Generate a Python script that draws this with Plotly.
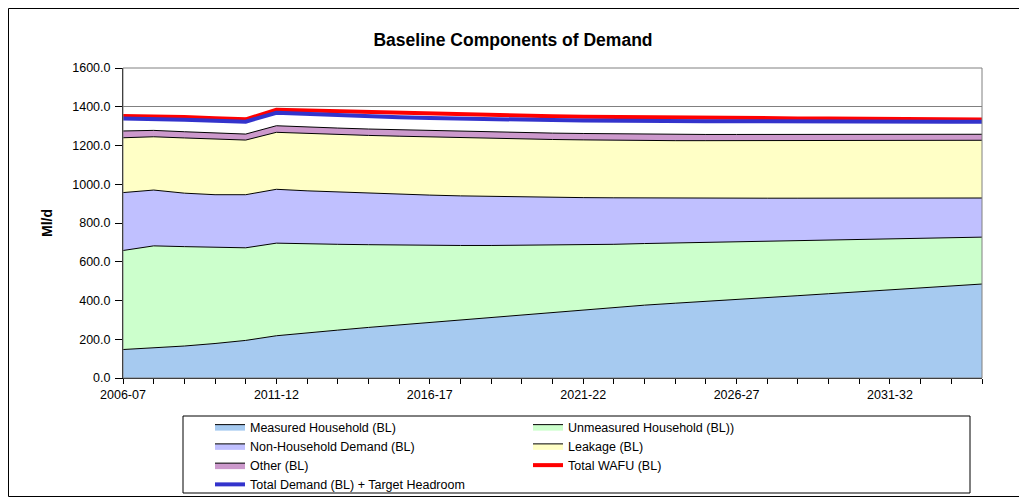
import plotly.graph_objects as go

years = ["2006-07", "2007-08", "2008-09", "2009-10", "2010-11", "2011-12", "2012-13",
         "2013-14", "2014-15", "2015-16", "2016-17", "2017-18", "2018-19", "2019-20",
         "2020-21", "2021-22", "2022-23", "2023-24", "2024-25", "2025-26", "2026-27",
         "2027-28", "2028-29", "2029-30", "2030-31", "2031-32", "2032-33", "2033-34",
         "2034-35"]

measured = [147, 155, 165, 178, 194, 218, 234, 247, 261, 274, 287, 300, 313, 326, 338,
            351, 364, 376, 386, 395, 405, 415, 425, 435, 445, 455, 465, 475, 485]
unmeasured = [511, 527, 513, 496, 478, 478, 458, 443, 427, 412, 398, 384, 371, 359, 348,
              337, 326, 318, 311, 305, 298, 291, 284, 277, 270, 263, 256, 249, 242]
non_household = [299, 288, 276, 272, 274, 278, 274, 270, 266, 263, 259, 256, 253, 249, 246,
                 243, 240, 235, 232, 228, 225, 222, 219, 216, 213, 211, 208, 205, 202]
leakage = [283, 275, 285, 287, 282, 294, 296, 297, 298, 299, 300, 300, 300, 300, 299,
           298, 297, 296, 296, 297, 297, 297, 297, 297, 297, 297, 297, 298, 298]
other = [35, 33, 32, 32, 31, 34, 33, 33, 33, 33, 33, 34, 33, 33, 33,
         33, 33, 33, 32, 32, 32, 32, 32, 32, 32, 31, 31, 31, 31]
total_wafu = [1352, 1352, 1347, 1341, 1335, 1385, 1381, 1377, 1372, 1368, 1364, 1359, 1356,
              1353, 1351, 1349, 1347, 1345, 1344, 1343, 1342, 1341, 1340, 1339, 1338, 1337,
              1336, 1335, 1334]
total_demand_headroom = [1340, 1339, 1333, 1328, 1323, 1369, 1362, 1356, 1350, 1346, 1342,
                         1338, 1335, 1333, 1331, 1329, 1327, 1326, 1325, 1325, 1325, 1324,
                         1324, 1324, 1324, 1323, 1323, 1323, 1323]

y_ticks = [0, 200, 400, 600, 800, 1000, 1200, 1400, 1600]
x_tick_labels = [y if i % 5 == 0 else "" for i, y in enumerate(years)]

FONT = "Liberation Sans, Arial, sans-serif"

areas = [
    ("Measured Household (BL)", measured, "#A6CAF0"),
    ("Unmeasured Household (BL))", unmeasured, "#CCFFCC"),
    ("Non-Household Demand (BL)", non_household, "#C0C0FF"),
    ("Leakage (BL)", leakage, "#FFFFC6"),
    ("Other (BL)", other, "#CC99CC"),
]

fig = go.Figure()
for name, vals, col in areas:
    fig.add_trace(go.Scatter(
        x=years, y=vals, name=name, mode="lines", stackgroup="demand",
        line=dict(color="black", width=1), fillcolor=col,
    ))

fig.add_trace(go.Scatter(x=years, y=total_wafu, name="Total WAFU (BL)", mode="lines",
                         line=dict(color="#FF0000", width=4)))
fig.add_trace(go.Scatter(x=years, y=total_demand_headroom,
                         name="Total Demand (BL) + Target Headroom", mode="lines",
                         line=dict(color="#3333CC", width=4)))

# page body has an 8px margin: figure drawn at screen offset (8, 8)
OFF = 8
W, H = 1027 - OFF, 498 - OFF
L, T = 123 - OFF, 68 - OFF
R = W - (982 - OFF)
B = H - (378 - OFF)
pw, ph = W - L - R, H - T - B


def px_x(p):  # screen px -> paper x
    return (p - OFF - L) / pw


def px_y(p):  # screen px -> paper y
    return (H - B - (p - OFF)) / ph


fig.update_layout(
    width=W, height=H,
    margin=dict(l=L, r=R, t=T, b=B, autoexpand=False),
    paper_bgcolor="white", plot_bgcolor="white",
    font=dict(family=FONT, size=12.5, color="black"),
    title=dict(text="<b>Baseline Components of Demand</b>", x=px_x(513), xref="paper",
               xanchor="center", y=1 - (40 - OFF) / H, yanchor="middle",
               font=dict(size=17.5, family=FONT)),
    showlegend=True,
    legend=dict(orientation="h", x=px_x(210), xanchor="left", y=px_y(412), yanchor="top",
                entrywidth=273, entrywidthmode="pixels", font=dict(size=12.5, family=FONT),
                bgcolor="rgba(0,0,0,0)", traceorder="normal", itemwidth=30),
    xaxis=dict(type="category", range=[0, len(years) - 1], tickmode="array",
               tickvals=years, ticktext=x_tick_labels, ticks="outside", ticklen=5,
               tickcolor="black", showline=True, linecolor="black", linewidth=1,
               showgrid=False, zeroline=False, tickfont=dict(size=12.5)),
    yaxis=dict(range=[0, 1600], tickmode="array", tickvals=y_ticks,
               ticktext=[f"{v:.1f}" for v in y_ticks], ticks="outside", ticklen=7,
               tickcolor="black", showline=True, linecolor="black", linewidth=1,
               showgrid=True, gridcolor="#808080", gridwidth=1, zeroline=False,
               tickfont=dict(size=12.5), ticklabelstandoff=2),
    annotations=[dict(text="<b>Ml/d</b>", textangle=-90, x=px_x(37), y=0.5,
                      xref="paper", yref="paper", showarrow=False,
                      font=dict(size=14, family=FONT))],
    shapes=[
        dict(type="rect", xref="paper", yref="paper", x0=0, x1=1, y0=0, y1=1,
             line=dict(color="#808080", width=1), layer="above"),
        dict(type="rect", xref="paper", yref="paper", x0=px_x(183), x1=px_x(970),
             y0=px_y(493), y1=px_y(416), line=dict(color="black", width=1)),
        dict(type="rect", xref="paper", yref="paper", x0=px_x(8.5), x1=px_x(1020),
             y0=px_y(496.5), y1=px_y(8.5), line=dict(color="black", width=1)),
    ],
)
fig.update_xaxes(layer="above traces")
fig.update_yaxes(layer="above traces")

fig.write_html("out.html")
